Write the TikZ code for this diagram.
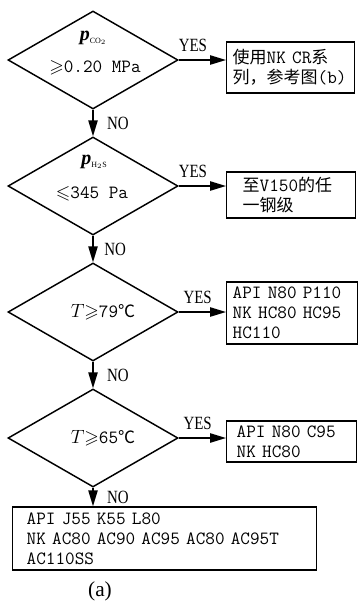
\documentclass[tikz,border=0pt]{standalone}
\usepackage{fontspec}
\usepackage{amssymb}
\usepackage{graphicx}
\newfontfamily\cjk{Noto Sans CJK SC}
\newfontfamily\serif{Liberation Serif}
\newcommand\zh[1]{{\cjk\fontsize{12.75pt}{15pt}\selectfont#1}}
\usetikzlibrary{shapes.geometric,arrows.meta,positioning}

\begin{document}
\begin{tikzpicture}[x=0.75pt,y=-0.75pt,
  losange/.style={draw,diamond,line width=1.1pt,inner sep=0pt,
    minimum width=127.5pt,minimum height=73.5pt},
  cadre/.style={draw,line width=1.1pt,anchor=west,align=left,
    font=\ttfamily\fontsize{14pt}{15pt}\selectfont,inner ysep=0pt},
  texte/.style={inner sep=0pt,font=\ttfamily\fontsize{14pt}{15pt}\selectfont},
  oui/.style={inner sep=0pt,font=\serif\fontsize{14pt}{16pt}\selectfont},
  fleche/.style={line width=1.1pt,-{Triangle[length=12pt,width=7pt]}}]

\useasboundingbox (0,0) rectangle (358,601);

% Losanges
\node[losange] (d1) at (93,60) {};
\node[losange] (d2) at (93,186) {};
\node[losange] (d3) at (93,312) {};
\node[losange] (d4) at (93,438) {};

% Conditions
\node[texte] (p1) at (93,38)
{{\serif\fontsize{15pt}{16pt}\selectfont\bfseries\itshape p}\raisebox{-2pt}{\serif\fontsize{6pt}{7pt}\selectfont CO$_2$}};
\node[texte] (c1) at (95,68) {$\geqslant$0.20 MPa};

\node[texte] (p2) at (94,162)
{{\serif\fontsize{15pt}{16pt}\selectfont\bfseries\itshape p}\raisebox{-2pt}{\serif\fontsize{6pt}{7pt}\selectfont H$_2$S}};
\node[texte] (c2) at (92,194) {$\leqslant$345 Pa};

\node[texte] (c3) at (103,312) {$T$$\geqslant$79\zh{℃}};
\node[texte] (c4) at (103,438) {$T$$\geqslant$65\zh{℃}};

% Cadres
\node[cadre,text width=87pt,inner xsep=4.5pt,minimum height=38.25pt]
(b1) at (226,67.5)
{\zh{使用}NK CR\zh{系}\\\zh{列，参考图}(b)};

\node[cadre,text width=72.75pt,inner xsep=12pt,minimum height=34.5pt]
(b2) at (226,195)
{\zh{至}V150\zh{的任}\\\zh{一钢级}};

\node[cadre,text width=89pt,inner xsep=4.5pt,minimum height=46.5pt]
(b3) at (226,313)
{API N80 P110\\NK HC80 HC95\\HC110};

\node[cadre,text width=82.5pt,inner xsep=7.5pt,minimum height=30.75pt]
(b4) at (226,441.5)
{API N80 C95\\NK HC80};

\node[cadre,text width=207pt,inner xsep=10.5pt,minimum height=47.25pt]
(b5) at (12,538.5)
{API J55 K55 L80\\NK AC80 AC90 AC95 AC80 AC95T\\AC110SS};

% Fleches YES
\draw[fleche] (d1.east) -- (d1.east -| b1.west)
node[oui,pos=0.3,above=6pt] {\scalebox{0.8}[1]{YES}};
\draw[fleche] (d2.east) -- (d2.east -| b2.west)
node[oui,pos=0.3,above=6pt] {\scalebox{0.8}[1]{YES}};
\draw[fleche] (d3.east) -- (d3.east -| b3.west)
node[oui,pos=0.4,above=6pt] {\scalebox{0.8}[1]{YES}};
\draw[fleche] (d4.east) -- (d4.east -| b4.west)
node[oui,pos=0.4,above=6pt] {\scalebox{0.8}[1]{YES}};

% Fleches NO
\draw[fleche] (d1.south) -- (d2.north)
node[oui,midway,right=10pt] {\scalebox{0.8}[1]{NO}};
\draw[fleche] (d2.south) -- (d3.north)
node[oui,midway,right=8pt] {\scalebox{0.8}[1]{NO}};
\draw[fleche] (d3.south) -- (d4.north)
node[oui,midway,right=10pt] {\scalebox{0.8}[1]{NO}};
\draw[fleche] (d4.south) -- (d4.south |- b5.north)
node[oui,midway,right=10pt] {\scalebox{0.8}[1]{NO}};

% Legende
\node[oui,font=\serif\fontsize{16pt}{18pt}\selectfont] (legende) at (100,591) {(a)};

\end{tikzpicture}
\end{document}
